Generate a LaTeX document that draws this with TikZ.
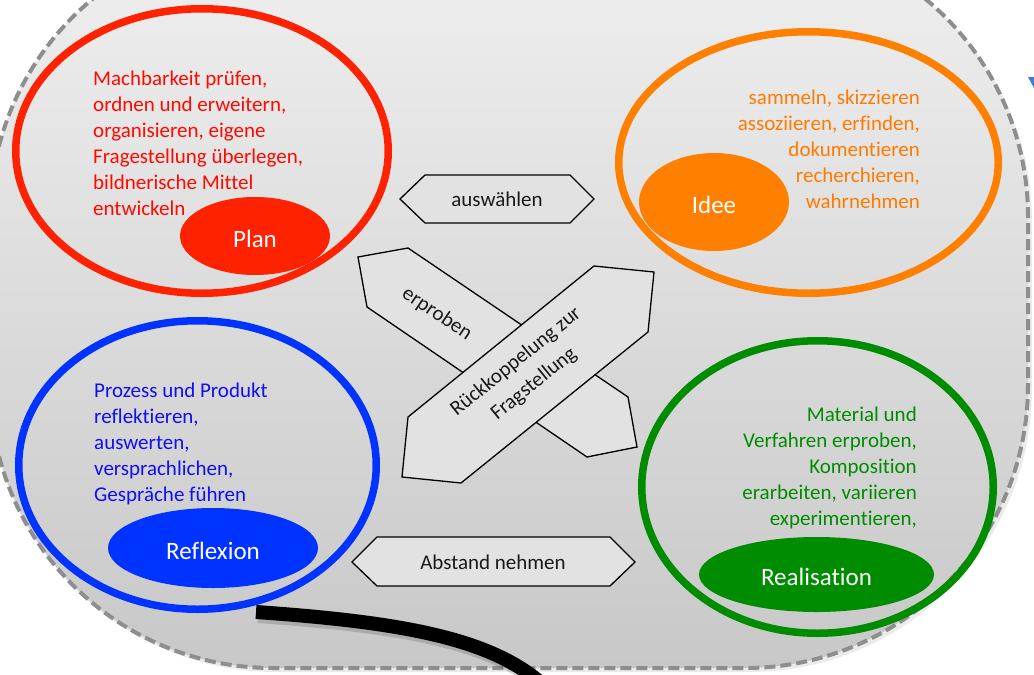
\documentclass[tikz,border=0pt]{standalone}
\usepackage{fontspec}
\setmainfont[Ligatures={NoCommon}]{Carlito}
\usetikzlibrary{shapes.geometric}
\definecolor{cred}{HTML}{FF2200}
\definecolor{credtxt}{HTML}{FF0A00}
\definecolor{corange}{HTML}{FF8000}
\definecolor{corangetxt}{HTML}{FF7A00}
\definecolor{cblue}{HTML}{0033FF}
\definecolor{cbluetxt}{HTML}{1010F0}
\definecolor{cgreen}{HTML}{008C00}
\definecolor{bgtop}{HTML}{F0F0F0}
\definecolor{bgbot}{HTML}{C8C8C8}
\definecolor{dashgray}{HTML}{8E8E8E}
\definecolor{shapefill}{HTML}{E2E2E2}
\definecolor{ink}{HTML}{1A1A1A}
\definecolor{cornerblue}{HTML}{3A7BE0}
\tikzset{
  ring/.style={ellipse, draw, line width=7.5pt, inner sep=0pt},
  badge/.style={ellipse, inner sep=0pt, text=white, text height=22pt, text depth=0pt, font=\fontsize{25}{30}\selectfont},
  body/.style={inner sep=0pt, font=\fontsize{21}{26}\selectfont},
  shapebox/.style={draw=black, line width=1.3pt, fill=shapefill, line join=miter},
  word/.style={inner sep=0pt, text=ink, font=\fontsize{21}{28.5}\selectfont},
}
\begin{document}
\begin{tikzpicture}[x=1pt,y=-1pt]
\useasboundingbox (0,0) rectangle (1034,675);
\clip (0,0) rectangle (1034,675);
% background panel
\fill[black, opacity=0.08, rounded corners=283pt] (-7,-62) rectangle (1032,672);
\shade[top color=bgtop, bottom color=bgbot, rounded corners=283pt] (-10,-66) rectangle (1028,668);
\draw[dashgray, line width=4pt, dash pattern=on 11pt off 5pt, rounded corners=283pt] (-10,-66) rectangle (1028,668);
\fill[cornerblue] (1028,77) -- (1034,77) -- (1034,88) -- cycle;

% rings
\node[ring, draw=cred, minimum width=372.5pt, minimum height=284.5pt] (planring) at (202,151) {};
\node[ring, draw=corange, minimum width=379.5pt, minimum height=261.5pt] (idearing) at (808.5,162.5) {};
\node[ring, draw=cblue, minimum width=357.5pt, minimum height=288.5pt] (reflring) at (197.5,465) {};
\node[ring, draw=cgreen, minimum width=351.5pt, minimum height=292.5pt] (realring) at (817.5,487) {};

% badges
\node[badge, fill=cred, minimum width=150pt, minimum height=78pt] (plan) at (255,236) {Plan};
\node[badge, fill=corange, minimum width=150pt, minimum height=98pt] (idee) at (714,202) {Idee};
\node[badge, fill=cblue, minimum width=210pt, minimum height=80pt] (reflexion) at (213,548) {Reflexion};
\node[badge, fill=cgreen, minimum width=235pt, minimum height=75pt] (realisation) at (816.5,574.5) {Realisation};

% body texts
\node[body, text=credtxt, align=left, anchor=north west] (plantext) at (93,70.5)
  {Machbarkeit prüfen,\\ordnen und erweitern,\\organisieren, eigene\\Fragestellung überlegen,\\bildnerische Mittel\\entwickeln};
\node[body, text=corangetxt, align=right, anchor=north east] (ideetext) at (920,89.5)
  {sammeln, skizzieren\\assoziieren, erfinden,\\dokumentieren\\recherchieren,\\wahrnehmen};
\node[body, text=cbluetxt, align=left, anchor=north west] (refltext) at (94,382.5)
  {Prozess und Produkt\\reflektieren,\\auswerten,\\versprachlichen,\\Gespräche führen};
\node[body, text=cgreen, align=right, anchor=north east] (realtext) at (917,406.5)
  {Material und\\Verfahren erproben,\\Komposition\\erarbeiten, variieren\\experimentieren,};

% hexagon labels
\filldraw[shapebox] (400,199) -- (425,175) -- (570,175) -- (594,199) -- (570,223) -- (425,223) -- cycle;
\node[word] (auswaehlen) at (497,199) {auswählen};
\filldraw[shapebox] (352,562) -- (377,537) -- (610,537) -- (635,562) -- (610,586) -- (377,586) -- cycle;
\node[word] (abstand) at (493,562) {Abstand nehmen};

% crossed arrows
\filldraw[shapebox] (358,257) -- (408,248) -- (628,397) -- (637,447) -- (587,457) -- (367,307) -- cycle;
\node[word, rotate=-34] (erproben) at (437,314) {erproben};
\filldraw[shapebox] (408,417) -- (594,266) -- (654,272) -- (648,332) -- (461,483) -- (402,477) -- cycle;
\node[word, rotate=39, align=center] (rueck) at (525,373) {Rückkoppelung zur\\Fragstellung};

% black curve
\coordinate (cs) at (256,612);
\coordinate (ce) at (542,684);
\draw[line width=14pt, black, opacity=0.15] ([shift={(2,4)}]cs) .. controls (402,626) and (492,642) .. ([shift={(2,4)}]ce);
\draw[line width=14pt, black] (cs) .. controls (400,622) and (490,638) .. (ce);
\end{tikzpicture}
\end{document}
